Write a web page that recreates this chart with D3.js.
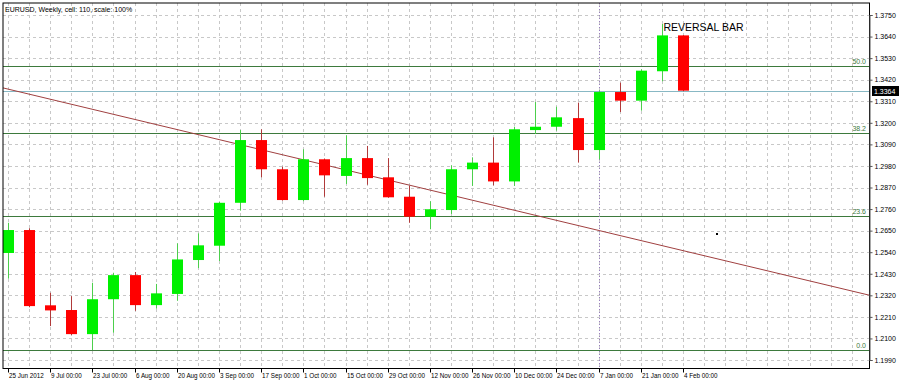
<!DOCTYPE html>
<html><head><meta charset="utf-8">
<script src="https://cdn.jsdelivr.net/npm/d3@7"></script>
<style>body{margin:0;background:#fff;overflow:hidden}svg{display:block}</style>
</head><body><svg id="c" width="900" height="383"></svg>
<script>
// ---------- data ----------
const weeks = ["2012-06-25","2012-07-02","2012-07-09","2012-07-16","2012-07-23","2012-07-30","2012-08-06","2012-08-13","2012-08-20","2012-08-27","2012-09-03","2012-09-10","2012-09-17","2012-09-24","2012-10-01","2012-10-08","2012-10-15","2012-10-22","2012-10-29","2012-11-05","2012-11-12","2012-11-19","2012-11-26","2012-12-03","2012-12-10","2012-12-17","2012-12-24","2012-12-31","2013-01-07","2013-01-14","2013-01-21","2013-01-28","2013-02-04"];
const open  = [1.2536,1.2653,1.2269,1.2245,1.2122,1.2300,1.2423,1.2270,1.2327,1.2500,1.2573,1.2792,1.3112,1.2963,1.2806,1.3014,1.2929,1.3020,1.2922,1.2823,1.2721,1.2755,1.2963,1.2997,1.2901,1.3163,1.3180,1.3224,1.3061,1.3357,1.3313,1.3463,1.3646];
const high  = [1.2690,1.2662,1.2333,1.2316,1.2384,1.2435,1.2439,1.2378,1.2585,1.2636,1.2796,1.3163,1.3167,1.2976,1.3065,1.3018,1.3136,1.3082,1.3020,1.2878,1.2800,1.2983,1.3024,1.3126,1.3180,1.3306,1.3282,1.3303,1.3364,1.3405,1.3473,1.3704,1.3647];
const low   = [1.2405,1.2259,1.2163,1.2117,1.2041,1.2129,1.2241,1.2252,1.2292,1.2459,1.2495,1.2752,1.2922,1.2803,1.2800,1.2823,1.2888,1.2884,1.2818,1.2690,1.2657,1.2735,1.2878,1.2881,1.2878,1.3143,1.3160,1.2997,1.3014,1.3255,1.3262,1.3412,1.3361];
const close = [1.2653,1.2265,1.2243,1.2122,1.2300,1.2423,1.2270,1.2330,1.2503,1.2575,1.2792,1.3112,1.2963,1.2806,1.3014,1.2932,1.3020,1.2918,1.2820,1.2721,1.2759,1.2963,1.2997,1.2901,1.3167,1.3180,1.3228,1.3061,1.3357,1.3313,1.3466,1.3646,1.3364];

const priceTicks = ["1.3750","1.3640","1.3530","1.3420","1.3310","1.3200","1.3090","1.2980","1.2870","1.2760","1.2650","1.2540","1.2430","1.2320","1.2210","1.2100","1.1990"];
const dateLabels = ["25 Jun 2012","9 Jul 00:00","23 Jul 00:00","6 Aug 00:00","20 Aug 00:00","3 Sep 00:00","17 Sep 00:00","1 Oct 00:00","15 Oct 00:00","29 Oct 00:00","12 Nov 00:00","26 Nov 00:00","10 Dec 00:00","24 Dec 00:00","7 Jan 00:00","21 Jan 00:00","4 Feb 00:00"];
const dateLabelWeeks = ["2012-06-25","2012-07-09","2012-07-23","2012-08-06","2012-08-20","2012-09-03","2012-09-17","2012-10-01","2012-10-15","2012-10-29","2012-11-12","2012-11-26","2012-12-10","2012-12-24","2013-01-07","2013-01-21","2013-02-04"];

const fibLabels = ["0.0","23.6","38.2","50.0"];
const fibPrices = [1.2042,1.2725,1.3147,1.3488];

const trendWeeks = ["2012-06-25","2013-02-04"];
const trendPrices = [1.3372,1.2548];

const lastPrice = 1.3364;
const markerWeek = "2013-01-07";
const noteText = "REVERSAL BAR";
const noteWeek = "2013-01-28";
const notePrice = 1.3668;
const dotWeekOffset = 33.6;   // index position of the small dot
const dotPrice = 1.2633;

const title = "EURUSD, Weekly, cell: 110, scale: 100%";

// ---------- layout ----------
const svg = d3.select("#c");
const L = 3, R = 869.5, T = 3, B = 368.5;
const FONT = "'Liberation Sans', Arial, sans-serif";

const idx = d3.scaleOrdinal().domain(weeks).range(d3.range(weeks.length));
const x = d3.scaleLinear().domain([0, weeks.length - 1]).range([8, 683]);
const y = d3.scaleLinear().domain([1.1990, 1.3750]).range([360, 15]);

svg.append("defs").append("clipPath").attr("id","plot")
  .append("rect").attr("x",L).attr("y",T).attr("width",R-L).attr("height",B-T);

const plot = svg.append("g").attr("clip-path","url(#plot)");

// grid
const nCols = Math.ceil(x.invert(R));
plot.append("g").selectAll("line").data(d3.range(0, nCols+1)).join("line")
  .attr("x1", d => Math.round(x(d))+0.5).attr("x2", d => Math.round(x(d))+0.5)
  .attr("y1", T).attr("y2", B)
  .attr("stroke","#c8c8c8").attr("stroke-dasharray","3,3").attr("stroke-width",1);
plot.append("g").selectAll("line").data(priceTicks).join("line")
  .attr("x1", L).attr("x2", R)
  .attr("y1", d => Math.round(y(+d))+0.5).attr("y2", d => Math.round(y(+d))+0.5)
  .attr("stroke","#c8c8c8").attr("stroke-dasharray","3,3").attr("stroke-width",1);

// fib lines
plot.append("g").selectAll("line").data(fibPrices).join("line")
  .attr("x1", L).attr("x2", R)
  .attr("y1", d => Math.round(y(d))+0.5).attr("y2", d => Math.round(y(d))+0.5)
  .attr("stroke","#3d7a3d").attr("stroke-width",1);
svg.append("g").selectAll("text").data(fibLabels).join("text")
  .attr("x", 866).attr("y", (d,i) => Math.round(y(fibPrices[i])) - 2)
  .attr("text-anchor","end").attr("font-family",FONT).attr("font-size",7)
  .attr("fill","#3d7a3d").text(d => d);

// last price line
plot.append("line").attr("x1",L).attr("x2",R)
  .attr("y1", Math.round(y(lastPrice))+0.5).attr("y2", Math.round(y(lastPrice))+0.5)
  .attr("stroke","#88b8c4").attr("stroke-width",1);

// vertical marker
plot.append("line")
  .attr("x1", Math.round(x(idx(markerWeek)))+0.5).attr("x2", Math.round(x(idx(markerWeek)))+0.5)
  .attr("y1", T).attr("y2", B)
  .attr("stroke","#9a7fc0").attr("stroke-dasharray","1,2").attr("stroke-width",1);

// trend line extended across the plot
{
  const i1 = idx(trendWeeks[0]), i2 = idx(trendWeeks[1]);
  const slope = (trendPrices[1]-trendPrices[0])/(i2-i1);
  const iL = x.invert(L), iR = x.invert(R);
  plot.append("line")
    .attr("x1", x(iL)).attr("y1", y(trendPrices[0] + slope*(iL-i1)))
    .attr("x2", x(iR)).attr("y2", y(trendPrices[0] + slope*(iR-i1)))
    .attr("stroke","#a04040").attr("stroke-width",1);
}

// candles
const cdata = weeks.map((w,i) => ({w, i, o:open[i], h:high[i], l:low[i], c:close[i]}));
const bw = 11;
const cg = plot.append("g");
cg.selectAll("line.wick").data(cdata).join("line").attr("class","wick")
  .attr("x1", d => Math.round(x(d.i))+0.5).attr("x2", d => Math.round(x(d.i))+0.5)
  .attr("y1", d => y(d.h)).attr("y2", d => y(d.l))
  .attr("stroke", d => d.c >= d.o ? "#4ccf4c" : "#b03a3a").attr("stroke-width",1);
cg.selectAll("rect").data(cdata).join("rect")
  .attr("x", d => Math.round(x(d.i)) - (bw-1)/2)
  .attr("width", bw)
  .attr("y", d => y(Math.max(d.o,d.c)))
  .attr("height", d => Math.max(1, Math.abs(y(d.o)-y(d.c))))
  .attr("fill", d => d.c >= d.o ? "#00f000" : "#ff0000");

// small dot
plot.append("rect").attr("x", Math.round(x(dotWeekOffset))-1).attr("y", Math.round(y(dotPrice))-1)
  .attr("width",2).attr("height",2).attr("fill","#000");

// annotation
svg.append("text").attr("x", x(idx(noteWeek))+1.5).attr("y", y(notePrice))
  .attr("font-family",FONT).attr("font-size",10.5).attr("fill","#000").text(noteText);

// title
svg.append("text").attr("x",5).attr("y",12).attr("font-family",FONT).attr("font-size",7)
  .attr("fill","#000").text(title);

// frame
svg.append("rect").attr("x",L+0.5-0.5).attr("y",T).attr("width",R-L).attr("height",B-T)
  .attr("fill","none").attr("stroke","#000").attr("stroke-width",1);

// right price axis
const yAxis = d3.axisRight(y).tickValues(priceTicks.map(Number)).tickSize(3).tickPadding(2)
  .tickFormat((d,i) => priceTicks[i]);
const ya = svg.append("g").attr("transform",`translate(${R},0)`).call(yAxis);
ya.select(".domain").attr("stroke","#555");
ya.selectAll("line").attr("stroke","#555");
ya.selectAll("text").attr("font-family",FONT).attr("font-size",7).attr("fill","#000");

// last price tag
svg.append("rect").attr("x",872).attr("y",Math.round(y(lastPrice))-5).attr("width",27).attr("height",10).attr("fill","#000");
svg.append("text").attr("x",874).attr("y",Math.round(y(lastPrice))+2.5)
  .attr("font-family",FONT).attr("font-size",7).attr("fill","#fff").text(lastPrice.toFixed(4));

// bottom date axis
const xb = svg.append("g");
xb.selectAll("line").data(dateLabelWeeks).join("line")
  .attr("x1", d => Math.round(x(idx(d)))+0.5).attr("x2", d => Math.round(x(idx(d)))+0.5)
  .attr("y1", B).attr("y2", B+4).attr("stroke","#000");
xb.selectAll("text").data(dateLabels).join("text")
  .attr("x", (d,i) => Math.round(x(idx(dateLabelWeeks[i])))+1)
  .attr("y", 378).attr("font-family",FONT).attr("font-size",6.3).attr("fill","#000")
  .text(d => d);
</script></body></html>
